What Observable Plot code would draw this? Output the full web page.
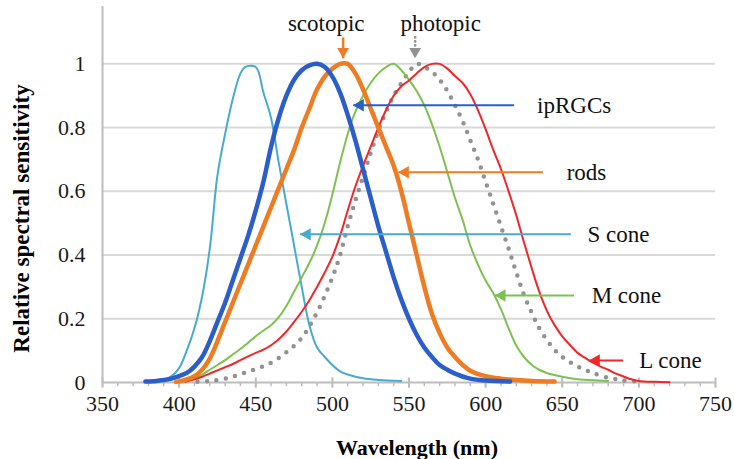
<!DOCTYPE html>
<html>
<head>
<meta charset="utf-8">
<script src="https://cdn.jsdelivr.net/npm/d3@7"></script>
<script src="https://cdn.jsdelivr.net/npm/@observablehq/plot@0.6"></script>
<style>
  html, body { margin: 0; padding: 0; background: #ffffff; }
  #chart svg text { font-family: 'Liberation Serif', 'Times New Roman', Times, serif; }
</style>
</head>
<body>
<div id="chart"></div>
<script>
// ---- Data: [wavelength nm, relative sensitivity] ----
const sCone = [[380,0.002],[385,0.004],[390,0.008],[395,0.02],[400,0.045],[405,0.1],[410,0.17],[415,0.27],[420,0.42],[425,0.65],[430,0.78],[435,0.89],[440,0.97],[443,0.99],[450,0.99],[455,0.91],[460,0.83],[465,0.69],[470,0.56],[475,0.43],[480,0.3],[485,0.18],[490,0.11],[495,0.08],[500,0.055],[505,0.035],[510,0.025],[520,0.013],[530,0.008],[545,0.005]];
const ipRGC = [[378,0.003],[385,0.005],[390,0.008],[395,0.012],[400,0.02],[405,0.03],[410,0.05],[415,0.08],[420,0.13],[425,0.19],[430,0.25],[435,0.32],[440,0.39],[445,0.46],[450,0.54],[455,0.63],[460,0.74],[465,0.83],[470,0.9],[475,0.95],[480,0.98],[485,0.995],[490,1.0],[495,0.99],[500,0.96],[505,0.91],[510,0.84],[515,0.76],[520,0.67],[525,0.58],[530,0.49],[535,0.41],[540,0.33],[545,0.26],[550,0.2],[555,0.15],[560,0.11],[565,0.08],[570,0.055],[575,0.04],[580,0.028],[590,0.012],[600,0.006],[616,0.003]];
const rods = [[398,0.002],[405,0.01],[410,0.02],[415,0.04],[420,0.075],[425,0.13],[430,0.19],[435,0.25],[440,0.31],[445,0.37],[450,0.43],[455,0.49],[460,0.55],[465,0.61],[470,0.67],[475,0.73],[480,0.8],[485,0.86],[490,0.92],[495,0.96],[500,0.985],[505,1.0],[510,1.0],[515,0.97],[520,0.92],[525,0.86],[530,0.8],[535,0.74],[540,0.68],[545,0.6],[550,0.5],[555,0.4],[560,0.3],[565,0.215],[570,0.155],[575,0.11],[580,0.08],[585,0.055],[590,0.037],[600,0.02],[610,0.012],[620,0.008],[630,0.005],[645,0.003]];
const mCone = [[400,0.003],[405,0.008],[410,0.016],[415,0.025],[420,0.04],[425,0.055],[430,0.07],[435,0.088],[440,0.105],[445,0.125],[450,0.145],[455,0.163],[460,0.18],[465,0.205],[470,0.24],[475,0.285],[480,0.33],[485,0.375],[490,0.43],[495,0.5],[500,0.59],[505,0.69],[510,0.78],[515,0.85],[520,0.9],[525,0.94],[530,0.97],[535,0.99],[540,1.0],[545,0.98],[550,0.95],[555,0.915],[560,0.87],[565,0.81],[570,0.74],[575,0.66],[580,0.58],[585,0.51],[590,0.43],[595,0.37],[600,0.32],[605,0.28],[610,0.23],[615,0.17],[620,0.116],[625,0.08],[630,0.056],[635,0.04],[640,0.03],[650,0.018],[660,0.01],[680,0.005]];
const lCone = [[404,0.002],[410,0.01],[415,0.018],[420,0.028],[425,0.038],[430,0.048],[435,0.058],[440,0.07],[445,0.082],[450,0.093],[455,0.103],[460,0.117],[465,0.136],[470,0.16],[475,0.19],[480,0.222],[485,0.258],[490,0.3],[495,0.345],[500,0.395],[505,0.46],[510,0.54],[515,0.615],[520,0.68],[525,0.74],[530,0.8],[535,0.855],[540,0.9],[545,0.93],[550,0.948],[555,0.97],[560,0.99],[565,1.0],[570,1.0],[575,0.985],[580,0.962],[585,0.94],[590,0.905],[595,0.855],[600,0.795],[605,0.73],[610,0.67],[615,0.6],[620,0.525],[625,0.44],[630,0.36],[635,0.285],[640,0.225],[645,0.18],[650,0.145],[655,0.118],[660,0.093],[665,0.077],[670,0.062],[675,0.05],[680,0.04],[685,0.028],[690,0.019],[695,0.01],[700,0.005],[710,0.002],[720,0.001]];
const photopic = [[412,0.002],[420,0.005],[430,0.012],[440,0.026],[450,0.042],[460,0.062],[470,0.095],[480,0.14],[490,0.22],[500,0.33],[505,0.4],[510,0.49],[515,0.57],[520,0.645],[525,0.72],[530,0.79],[535,0.85],[540,0.9],[545,0.94],[550,0.975],[555,1.0],[560,0.99],[565,0.975],[570,0.95],[575,0.915],[580,0.87],[585,0.82],[590,0.76],[595,0.7],[600,0.63],[605,0.56],[610,0.49],[615,0.42],[620,0.345],[625,0.275],[630,0.22],[635,0.17],[640,0.133],[645,0.103],[650,0.08],[655,0.064],[660,0.05],[665,0.04],[670,0.03],[680,0.015],[690,0.007],[698,0.004]];

// ---- Annotation values (data units) ----
const sideLabels = ["ipRGCs", "rods", "S cone", "M cone", "L cone"];
const sideArrowFrom = [618.6, 637.4, 655.6, 657.7, 689.7];
const sideArrowTo = [513.6, 543.0, 479.0, 606.1, 667.6];
const sideArrowY = [0.87, 0.66, 0.465, 0.273, 0.069];
const sideLabelX = [633.6, 652.9, 666.4, 669.2, 700.3];

const topLabels = ["scotopic", "photopic"];
const topLabelX = [496, 570.7];
const topLabelY = 1.127;
const topArrowX = [507, 554];
const topArrowFrom = 1.083;
const topArrowTo = 1.017;

// ---- Axes ----
const xTicks = [350, 400, 450, 500, 550, 600, 650, 700, 750];
const xMinorTicks = d3.range(350, 751, 10);
const yTicks = [0, 0.2, 0.4, 0.6, 0.8, 1];
const xTitle = "Wavelength (nm)";
const yTitle = "Relative spectral sensitivity";

// ---- Styles ----
const C = {
  s: "#48aad0",
  ip: "#2b5ecb",
  rods: "#ef7b22",
  m: "#7dc152",
  l: "#f0272a",
  photo: "#929292",
  grid: "#d9d9d9",
  axis: "#bdbdbd"
};
const sideColors = [C.ip, C.rods, C.s, C.m, C.l];
const topColors = [C.rods, C.photo];

const toRows = arr => arr.map(([nm, v]) => ({nm, v}));
const sideAnn = sideLabels.map((label, i) => ({
  label, x1: sideArrowFrom[i], x2: sideArrowTo[i], y: sideArrowY[i], lx: sideLabelX[i], color: sideColors[i]
}));
const topAnn = topLabels.map((label, i) => ({
  label, x: topLabelX[i], ax: topArrowX[i], color: topColors[i]
}));

const serif = "'Liberation Serif', 'Times New Roman', Times, serif";

const chart = Plot.plot({
  width: 734,
  height: 459,
  marginLeft: 102,
  marginRight: 19,
  marginTop: 6,
  marginBottom: 77,
  style: "font-family: 'Liberation Serif', 'Times New Roman', serif; font-size: 22px; color: #1a1a1a; background: #ffffff; overflow: visible;",
  x: {domain: [350, 750]},
  y: {domain: [0, 1.18]},
  marks: [
    Plot.ruleY(yTicks.filter(d => d > 0), {stroke: C.grid, strokeWidth: 2}),
    Plot.ruleX([350], {y1: 0, y2: 1.18, stroke: C.axis, strokeWidth: 2}),
    Plot.ruleY([0], {stroke: C.axis, strokeWidth: 2}),
    Plot.ruleX(xMinorTicks, {y1: 0, y2: -0.013, stroke: C.axis, strokeWidth: 1.5}),
    Plot.ruleX(xTicks, {y1: 0.014, y2: -0.018, stroke: C.axis, strokeWidth: 2}),
    Plot.axisX({ticks: xTicks, tickSize: 0, tickPadding: 13, label: null, fontSize: 22, fontFamily: serif}),
    Plot.axisY({ticks: yTicks, tickSize: 0, tickPadding: 17, label: null, tickFormat: d => String(d), fontSize: 22, fontFamily: serif}),
    Plot.line(toRows(photopic), {x: "nm", y: "v", stroke: C.photo, strokeWidth: 4.5, strokeDasharray: "0,9.5", strokeLinecap: "round", curve: "catmull-rom"}),
    Plot.line(toRows(sCone), {x: "nm", y: "v", stroke: C.s, strokeWidth: 2, curve: "catmull-rom"}),
    Plot.line(toRows(mCone), {x: "nm", y: "v", stroke: C.m, strokeWidth: 2, curve: "catmull-rom"}),
    Plot.line(toRows(lCone), {x: "nm", y: "v", stroke: C.l, strokeWidth: 2, curve: "catmull-rom"}),
    Plot.line(toRows(rods), {x: "nm", y: "v", stroke: C.rods, strokeWidth: 4.5, curve: "catmull-rom"}),
    Plot.line(toRows(ipRGC), {x: "nm", y: "v", stroke: C.ip, strokeWidth: 4.5, curve: "catmull-rom"}),
    Plot.link(sideAnn, {x1: "x1", x2: "x2", y1: "y", y2: "y", stroke: "color", strokeWidth: 2}),
    Plot.dot(sideAnn, {x: "x2", y: "y", symbol: "triangle", rotate: -90, r: 4.6, fill: "color", stroke: null, dx: 7}),
    Plot.text(sideAnn, {x: "lx", y: "y", text: "label", textAnchor: "start", lineAnchor: "middle", fontSize: 23, fontFamily: serif, fill: "#111"}),
    Plot.link([topAnn[0]], {x1: "ax", x2: "ax", y1: () => topArrowFrom, y2: () => topArrowTo, stroke: "color", strokeWidth: 2.5}),
    Plot.link([topAnn[1]], {x1: "ax", x2: "ax", y1: () => topArrowFrom, y2: () => topArrowTo + 0.02, stroke: "color", strokeWidth: 2.8, strokeDasharray: "0,4", strokeLinecap: "round"}),
    Plot.dot(topAnn, {x: "ax", y: () => topArrowTo, symbol: "triangle", rotate: 180, r: 4.4, fill: "color", stroke: null, dy: -7}),
    Plot.text(topAnn, {x: "x", y: () => topLabelY, text: "label", textAnchor: "middle", lineAnchor: "middle", fontSize: 23, fontFamily: serif, fill: "#111"}),
    Plot.text([xTitle], {frameAnchor: "bottom", text: d => d, dx: 8, dy: 65, lineAnchor: "middle", fontWeight: "bold", fontSize: 22, fontFamily: serif, fill: "#000"}),
    Plot.text([yTitle], {frameAnchor: "left", text: d => d, rotate: -90, dx: -81, dy: 24, lineAnchor: "middle", textAnchor: "middle", fontWeight: "bold", fontSize: 23, fontFamily: serif, fill: "#000"})
  ]
});
document.getElementById("chart").appendChild(chart);
</script>
</body>
</html>
